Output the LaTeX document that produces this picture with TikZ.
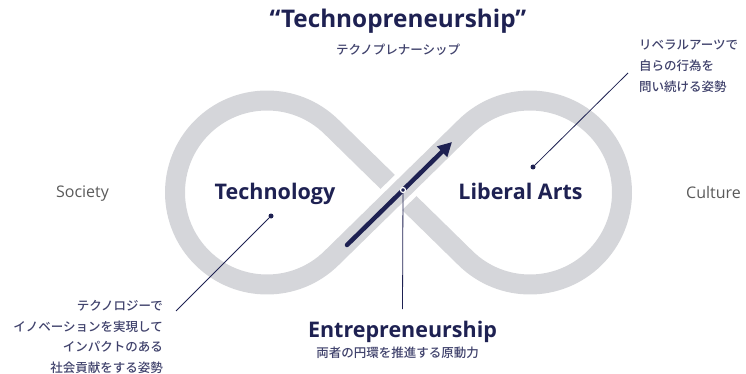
\documentclass[tikz,border=0pt]{standalone}
\usepackage{fontspec}
\setmainfont{Open Sans}
\newfontfamily\jpfont{Noto Sans CJK JP Medium}
\usepackage{tikz}
\usetikzlibrary{arrows.meta}
\tikzset{>=latex}
\definecolor{mynavy}{HTML}{1E2152}
\definecolor{mygray}{HTML}{D5D6DA}
\definecolor{mytext}{HTML}{5A5A5A}

\begin{document}
\begin{tikzpicture}[x=1pt, y=1pt,
                    line join=round,
                    band/.style={mygray, line width=20pt},
                    gapband/.style={white, line width=30pt},
                    pin/.style={mynavy, line width=0.8pt},
                    dot/.style={circle, fill=mynavy, inner sep=0pt, minimum size=5pt},
                    heading/.style={font=\bfseries\fontsize{24.3}{24.3}\selectfont, text=mynavy},
                    field/.style={font=\bfseries\fontsize{21.5}{21.5}\selectfont, text=mynavy},
                    side/.style={font=\fontsize{16}{16}\selectfont, text=mytext},
                    jp/.style={font=\jpfont\fontsize{12.5}{20.7}\selectfont, text=mynavy!85, inner sep=0pt}]
  \useasboundingbox (0,0) rectangle (746,-374);
  \def\rLoop{92}
  \def\tAng{44.4}

  \coordinate (cross) at (398.5,-192.5);
  \coordinate (lc) at (267,-192.5);
  \coordinate (rc) at (530,-192.5);

  % INFINITY BAND
  \draw[band] (cross) -- ([shift={(90+\tAng:\rLoop)}]rc)
    arc[start angle=90+\tAng, end angle=-90-\tAng, radius=\rLoop]
    -- ([shift={(90-\tAng:\rLoop)}]lc)
    arc[start angle=90-\tAng, end angle=270+\tAng, radius=\rLoop] -- cycle;
  % rising strand goes over
  \draw[gapband] ([shift={(180+\tAng:30)}]cross) -- ([shift={(\tAng:30)}]cross);
  \draw[band] ([shift={(180+\tAng:31)}]cross) -- ([shift={(\tAng:31)}]cross);

  % ARROW
  \coordinate (tail) at (347,-245);
  \coordinate (head) at (452,-142);
  \draw[mynavy, line width=4.5pt, line cap=round, -{Triangle[length=14pt, width=14pt]}] (tail) -- (head);

  % TITLE
  \node[heading, anchor=base] (title) at (398,-28) {“Technopreneurship”};
  \node[jp] (titlejp) at (398,-50) {テクノプレナーシップ};

  % FIELDS
  \node[field, anchor=base] (tech) at (275,-199) {Technology};
  \node[field, anchor=base] (arts) at (520.5,-199) {Liberal Arts};
  \node[side, anchor=base] (society) at (82.5,-197) {Society};
  \node[side, anchor=base] (culture) at (713.5,-198) {Culture};

  % ENTREPRENEURSHIP
  \node[dot, draw=white, line width=1.2pt] (edot) at (403,-190) {};
  \node[field, anchor=base] (entre) at (402.5,-337) {Entrepreneurship};
  \node[jp] (entrejp) at (397.5,-353) {両者の円環を推進する原動力};
  \draw[pin] (edot) -- ([yshift=8pt]entre.north);

  % PINS
  \node[dot] (tdot) at (271,-216) {};
  \coordinate (tend) at (176,-311);
  \draw[pin] (tdot) -- (tend);
  \node[jp, anchor=north east, align=right] (techjp) at (163,-300)
    {テクノロジーで\\イノベーションを実現して\\インパクトのある\\社会貢献をする姿勢};

  \node[dot] (adot) at (533,-167) {};
  \coordinate (aend) at (628,-73);
  \draw[pin] (adot) -- (aend);
  \node[jp, anchor=north west, align=left] (artsjp) at (639,-40)
    {リベラルアーツで\\自らの行為を\\問い続ける姿勢};
\end{tikzpicture}
\end{document}
